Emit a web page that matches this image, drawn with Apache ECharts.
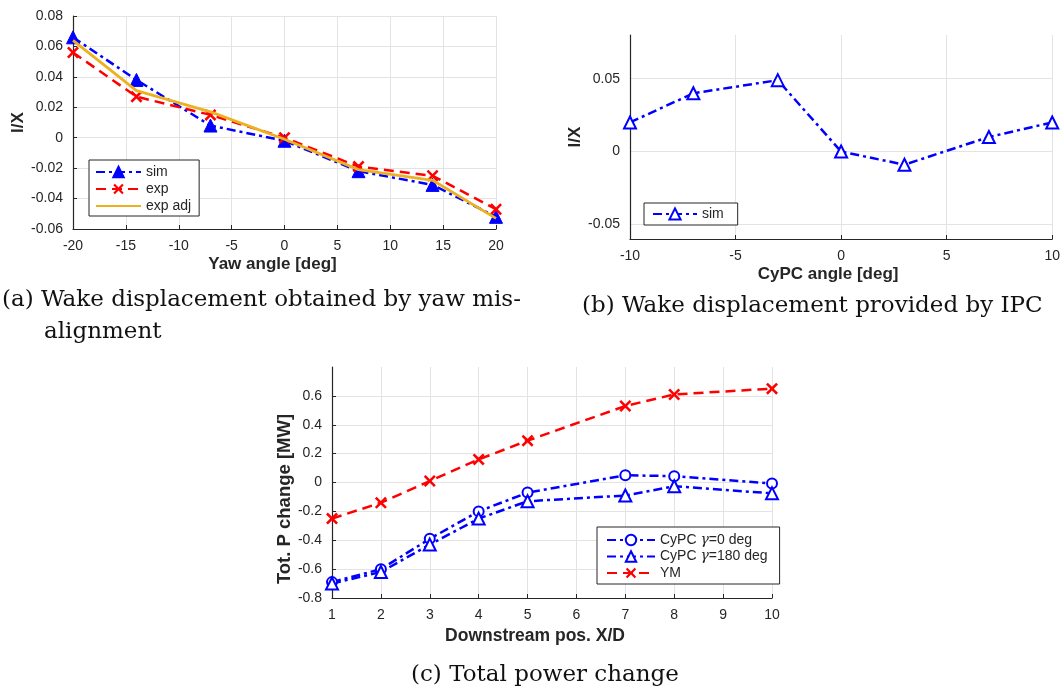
<!DOCTYPE html>
<html><head><meta charset="utf-8">
<script src="https://cdn.jsdelivr.net/npm/echarts@6/dist/echarts.min.js"></script>
<style>html,body{margin:0;padding:0;background:#fff}#c{width:1063px;height:688px}</style>
</head><body><div id="c"></div>
<script>
// ---- (a) yaw misalignment ----
const yawAngles = [-20, -14, -7, 0, 7, 14, 20];
const yawSim    = [0.066, 0.038, 0.008, -0.002, -0.022, -0.031, -0.052];
const yawExp    = [0.056, 0.027, 0.015, 0.000, -0.019, -0.025, -0.047];
const yawExpAdj = [0.064, 0.031, 0.017, -0.001, -0.021, -0.028, -0.053];
// ---- (b) IPC ----
const cypcAngles = [-10, -7, -3, 0, 3, 7, 10];
const cypcSim    = [0.020, 0.040, 0.049, 0.000, -0.009, 0.010, 0.020];
// ---- (c) total power change ----
const downstreamPos = [1, 2, 3, 4, 5, 7, 8, 10];
const powerCyPC0    = [-0.69, -0.60, -0.39, -0.20, -0.07, 0.05, 0.044, -0.007];
const powerCyPC180  = [-0.70, -0.62, -0.43, -0.25, -0.13, -0.09, -0.026, -0.075];
const powerYM       = [-0.25, -0.14, 0.01, 0.16, 0.29, 0.53, 0.61, 0.65];
// ---- labels ----
const captionA1 = '(a) Wake displacement obtained by yaw mis-';
const captionA2 = 'alignment';
const captionB  = '(b) Wake displacement provided by IPC';
const captionC  = '(c) Total power change';

const zip = (xs, ys) => xs.map((x, i) => [x, ys[i]]);
const BLUE = '#0000ff', RED = '#ff0000', ORANGE = '#edb120';
const AX = '#262626', GRID = '#e3e3e3';
const DASHDOT = [9, 4, 3, 4];
const DASH = [10, 6];
const XSYM = 'path://M1.5,0 L5,3.5 L8.5,0 L10,1.5 L6.5,5 L10,8.5 L8.5,10 L5,6.5 L1.5,10 L0,8.5 L3.5,5 L0,1.5 Z';
const SANS = 'Liberation Sans, Arial, sans-serif';
const TICKFONT = {color: AX, fontSize: 14, fontFamily: SANS};
const NAMEFONT = {color: AX, fontSize: 17, fontWeight: 'bold', fontFamily: SANS};
const CAPFONT = '23px "DejaVu Serif", serif';

function baseAxis(extra) {
  return Object.assign({
    type: 'value',
    axisLine: {show: true, onZero: false, lineStyle: {color: AX, width: 1.2}},
    axisTick: {show: true, inside: true, length: 4, lineStyle: {color: AX}},
    axisLabel: Object.assign({}, TICKFONT, {margin: 10}),
    splitLine: {show: true, lineStyle: {color: GRID, width: 1}},
    nameLocation: 'middle',
    nameTextStyle: Object.assign({}, NAMEFONT)
  }, extra);
}

// colours for (b) y split lines: only at -0.05, 0, 0.05 (ticks from -0.06 step 0.01)
const bSplitColors = [];
for (let i = 0; i <= 14; i++) bSplitColors.push((i === 1 || i === 6 || i === 11) ? GRID : 'rgba(0,0,0,0)');

const legendText = {color: AX, fontSize: 14, fontFamily: SANS,
  rich: {g: {fontFamily: 'DejaVu Serif, serif', fontStyle: 'italic', fontSize: 14, color: AX}}};

const option = {
  backgroundColor: '#fff',
  animation: false,
  grid: [
    {left: 73, right: 567, top: 16, bottom: 459},
    {left: 630, right: 5, top: 35, bottom: 449},
    {left: 332, right: 291, top: 367, bottom: 90}
  ],
  xAxis: [
    baseAxis({gridIndex: 0, min: -20, max: 20, interval: 5, name: 'Yaw angle [deg]', nameGap: 27,
      nameTextStyle: Object.assign({}, NAMEFONT, {padding: [0, 24, 0, 0]})}),
    baseAxis({gridIndex: 1, min: -10, max: 10, interval: 5, name: 'CyPC angle [deg]', nameGap: 27,
      nameTextStyle: Object.assign({}, NAMEFONT, {padding: [0, 26, 0, 0]})}),
    baseAxis({gridIndex: 2, min: 1, max: 10, interval: 1, name: 'Downstream pos. X/D', nameGap: 29,
      nameTextStyle: Object.assign({}, NAMEFONT, {fontSize: 17.5, padding: [0, 34, 0, 0]})})
  ],
  yAxis: [
    baseAxis({gridIndex: 0, min: -0.06, max: 0.08, interval: 0.02, name: 'l/X', nameGap: 46}),
    baseAxis({gridIndex: 1, min: -0.06, max: 0.08, interval: 0.01, name: 'l/X', nameGap: 46,
      axisTick: {show: false},
      axisLabel: Object.assign({}, TICKFONT, {margin: 10, formatter: function (v) {
        const k = v * 20; if (Math.abs(k - Math.round(k)) > 1e-6) return '';
        const r = Math.round(k); return r === 0 ? '0' : (r / 20).toFixed(2);
      }}),
      splitLine: {show: true, lineStyle: {color: bSplitColors, width: 1}}}),
    baseAxis({gridIndex: 2, min: -0.8, max: 0.8, interval: 0.2, name: 'Tot. P change [MW]', nameGap: 38,
      axisLabel: Object.assign({}, TICKFONT, {margin: 10, showMaxLabel: false}),
      nameTextStyle: Object.assign({}, NAMEFONT, {fontSize: 18.5, padding: [0, 33, 0, 0]}),
      splitLine: {show: true, showMaxLine: false, lineStyle: {color: GRID, width: 1}}})
  ],
  legend: [
    {left: 89, top: 160, orient: 'vertical', itemGap: 3, itemWidth: 45, itemHeight: 13,
      padding: [5, 8, 3, 6], borderColor: AX, borderWidth: 1, backgroundColor: '#fff',
      textStyle: legendText,
      data: ['sim', 'exp', {name: 'exp adj', itemStyle: {opacity: 0}}]},
    {left: 644, top: 203, orient: 'vertical', itemWidth: 44, itemHeight: 14,
      padding: [4, 10, 4, 8], borderColor: AX, borderWidth: 1, backgroundColor: '#fff',
      textStyle: legendText, data: ['sim ']},
    {left: 597, top: 527, orient: 'vertical', itemGap: 2.5, itemWidth: 48, itemHeight: 13,
      padding: [6, 12, 4, 9], borderColor: AX, borderWidth: 1, backgroundColor: '#fff',
      textStyle: legendText, data: ['c0', 'c180', 'YM'],
      formatter: function (n) {
        if (n === 'c0') return 'CyPC {g|γ}=0 deg';
        if (n === 'c180') return 'CyPC {g|γ}=180 deg';
        return n;
      }}
  ],
  series: [
    {name: 'sim', type: 'line', xAxisIndex: 0, yAxisIndex: 0, data: zip(yawAngles, yawSim),
      symbol: 'triangle', symbolSize: 13, z: 3,
      lineStyle: {color: BLUE, width: 2.5, type: DASHDOT},
      itemStyle: {color: BLUE, borderColor: BLUE, borderWidth: 1}},
    {name: 'exp', type: 'line', xAxisIndex: 0, yAxisIndex: 0, data: zip(yawAngles, yawExp),
      symbol: XSYM, symbolSize: 12, z: 3,
      lineStyle: {color: RED, width: 2.5, type: DASH},
      itemStyle: {color: RED}},
    {name: 'exp adj', type: 'line', xAxisIndex: 0, yAxisIndex: 0, data: zip(yawAngles, yawExpAdj),
      symbol: 'none', z: 4,
      lineStyle: {color: ORANGE, width: 2.8, type: 'solid'},
      itemStyle: {color: ORANGE}},
    {name: 'sim ', type: 'line', xAxisIndex: 1, yAxisIndex: 1, data: zip(cypcAngles, cypcSim),
      symbol: 'triangle', symbolSize: 12,
      lineStyle: {color: BLUE, width: 2.5, type: DASHDOT},
      itemStyle: {color: '#fff', borderColor: BLUE, borderWidth: 2}},
    {name: 'c0', type: 'line', xAxisIndex: 2, yAxisIndex: 2, data: zip(downstreamPos, powerCyPC0),
      symbol: 'circle', symbolSize: 10,
      lineStyle: {color: BLUE, width: 2.5, type: DASHDOT},
      itemStyle: {color: '#fff', borderColor: BLUE, borderWidth: 2}},
    {name: 'c180', type: 'line', xAxisIndex: 2, yAxisIndex: 2, data: zip(downstreamPos, powerCyPC180),
      symbol: 'triangle', symbolSize: 12,
      lineStyle: {color: BLUE, width: 2.5, type: DASHDOT},
      itemStyle: {color: '#fff', borderColor: BLUE, borderWidth: 2}},
    {name: 'YM', type: 'line', xAxisIndex: 2, yAxisIndex: 2, data: zip(downstreamPos, powerYM),
      symbol: XSYM, symbolSize: 12,
      lineStyle: {color: RED, width: 2.5, type: DASH},
      itemStyle: {color: RED}}
  ],
  graphic: [
    {type: 'text', x: 2, y: 300, style: {text: captionA1, font: CAPFONT, fill: '#111', verticalAlign: 'middle'}},
    {type: 'text', x: 44, y: 332, style: {text: captionA2, font: CAPFONT, fill: '#111', verticalAlign: 'middle'}},
    {type: 'text', x: 582, y: 306, style: {text: captionB, font: CAPFONT, fill: '#111', verticalAlign: 'middle'}},
    {type: 'text', x: 411, y: 675, style: {text: captionC, font: CAPFONT, fill: '#111', verticalAlign: 'middle'}}
  ]
};
const chart = echarts.init(document.getElementById('c'), null, {renderer: 'canvas'});
chart.setOption(option);
</script></body></html>
